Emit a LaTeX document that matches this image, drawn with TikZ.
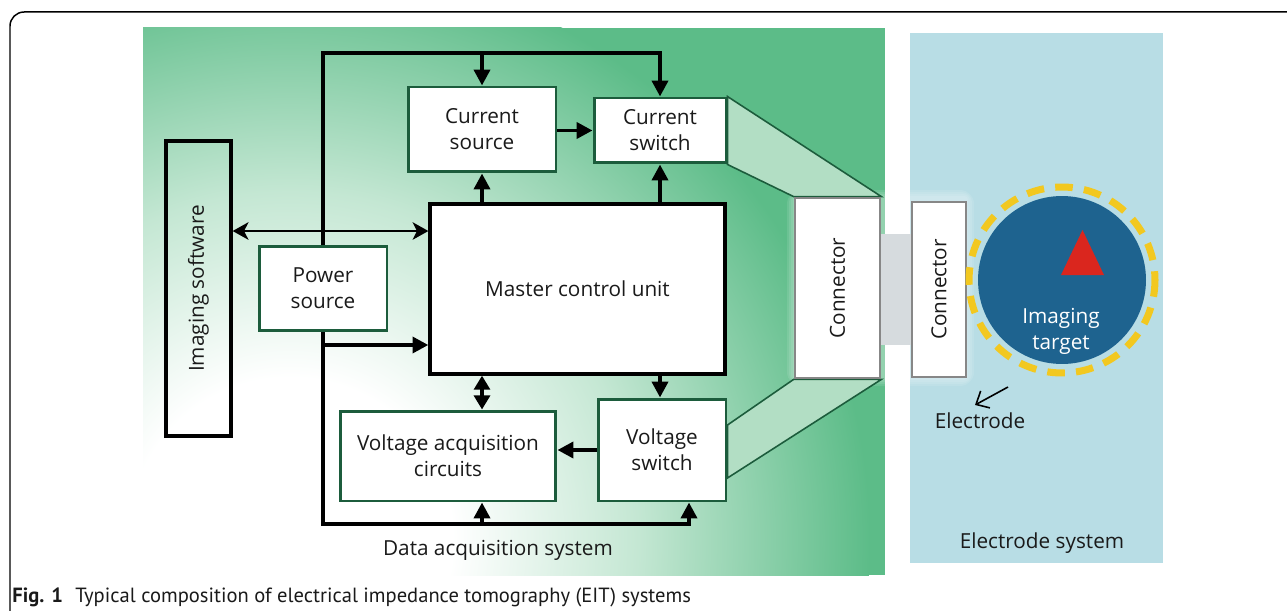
\documentclass[tikz,border=0pt]{standalone}
\usepackage{graphicx}
\usepackage{fontspec}
\setmainfont{Open Sans}
\newfontfamily\capfont{PT Sans}
\usetikzlibrary{arrows.meta}
\definecolor{panelgreen}{RGB}{92,188,136}
\definecolor{glowmid}{RGB}{196,231,211}
\definecolor{boxgreen}{RGB}{28,92,60}
\definecolor{linkgreen}{RGB}{178,222,196}
\definecolor{panelblue}{RGB}{184,221,229}
\definecolor{conngray}{RGB}{135,135,135}
\definecolor{bandgray}{RGB}{214,219,222}
\definecolor{targetblue}{RGB}{30,99,143}
\definecolor{ringyellow}{RGB}{242,200,32}
\definecolor{markred}{RGB}{218,38,30}
\definecolor{ink}{RGB}{26,26,26}
\pgfdeclareradialshading{panelglow}{\pgfpoint{0bp}{0bp}}{color(0bp)=(white); color(7bp)=(white); color(15bp)=(glowmid); color(25bp)=(panelgreen); color(50bp)=(panelgreen)}
\pgfdeclarelayer{bg}
\pgfsetlayers{bg,main}

\begin{document}
\begin{tikzpicture}[x=0.02cm,y=-0.02cm,font=\fontsize{11.8}{14.7}\selectfont,text=ink,
    gbox/.style={draw=boxgreen,line width=1.7pt,fill=white,align=center,inner sep=0pt},
    kbox/.style={draw=black,line width=1.9pt,align=center,inner sep=0pt},
    cbox/.style={draw=conngray,line width=1.6pt,fill=white,inner sep=0pt},
    arr/.style={line width=2.2pt,-{Triangle[length=9pt,width=9pt]}},
    darr/.style={line width=2.2pt,{Triangle[length=8pt,width=9pt]}-{Triangle[length=8pt,width=9pt]}},
    link/.style={draw=boxgreen,line width=0.9pt,fill=linkgreen}]
\useasboundingbox (0,0) rectangle (1287,611);
\begin{pgfonlayer}{bg}
    % panels
    \fill[panelgreen] (143,28) rectangle (885,575);
    \begin{scope}
        \clip (143,28) rectangle (885,575);
        \shade[shading=panelglow] (290,540) circle (11.6cm);
    \end{scope}
    \fill[panelblue] (910,33) rectangle (1163,563);
    \foreach \r in {1,...,4}
        \fill[white,opacity=0.1,rounded corners=2*\r pt] (795-2*\r,198-2*\r) rectangle (966+2*\r,378+2*\r);
    \fill[bandgray] (880,234) rectangle (912,345);
\end{pgfonlayer}
\draw[line width=0.85pt,rounded corners=8pt] (10,611) -- (10,12) -- (1287,12);

% boxes
\node[kbox,minimum width=1.3cm,minimum height=5.9cm] (imgsw) at (198.5,288.5) {\rotatebox{90}{Imaging software}};
\node[gbox,minimum width=2.56cm,minimum height=1.7cm] (power) at (323,288.5) {Power\\source};
\node[gbox,minimum width=2.96cm,minimum height=1.7cm] (cursrc) at (482,129.5) {Current\\source};
\node[gbox,minimum width=2.64cm,minimum height=1.3cm] (cursw) at (660,130.5) {Current\\switch};
\node[kbox,fill=white,minimum width=5.9cm,minimum height=3.4cm] (mcu) at (577.5,289) {Master control unit};
\node[gbox,minimum width=4.32cm,minimum height=1.8cm] (vac) at (448,456) {Voltage acquisition\\circuits};
\node[gbox,minimum width=2.56cm,minimum height=2.04cm] (volsw) at (662,450) {Voltage\\switch};
\node[cbox,minimum width=1.7cm,minimum height=3.6cm] (conn1) at (837.5,288) {\rotatebox{90}{Connector}};
\node[cbox,minimum width=1.08cm,minimum height=3.5cm] (conn2) at (939,289.5) {\rotatebox{90}{Connector}};

\begin{pgfonlayer}{bg}
    \filldraw[link] (cursw.north east) -- (conn1.north east) -- (conn1.north west) -- (cursw.south east) -- cycle;
    \filldraw[link] (conn1.south west) -- ([yshift=0.5cm]volsw.east) -- ([yshift=-0.56cm]volsw.east) -- (conn1.south east) -- cycle;
\end{pgfonlayer}

% bus and arrows
\coordinate (bustop) at (323,53);
\coordinate (busbot) at (323,524);
\coordinate (pw) at (323,345);
\draw[arr] (power.north) -- (power.north |- bustop) -| (cursw.north);
\draw[arr] (bustop -| cursrc.north) -- (cursrc.north);
\draw[arr] (power.south) -- (power.south |- busbot) -| ([xshift=0.54cm]volsw.south);
\draw[arr] (busbot -| cursrc) -- (vac.south -| cursrc);
\draw[arr] (pw) -- (pw -| mcu.west);
\draw[arr] (cursrc.south |- mcu.north) -- (cursrc.south);
\draw[arr] (cursw.south |- mcu.north) -- (cursw.south);
\draw[arr] (cursrc.east |- cursw) -- (cursw.west);
\draw[darr] (mcu.south -| cursrc) -- (vac.north -| cursrc);
\draw[arr] (mcu.south -| cursw) -- (volsw.north -| cursw);
\draw[arr] (volsw.west) -- (volsw.west -| vac.east);
\draw[line width=1.1pt,{Stealth[length=9pt,width=10pt,inset=2.5pt]}-{Stealth[length=9pt,width=10pt,inset=2.5pt]}] ([yshift=1.15cm]imgsw.east) -- ([yshift=1.15cm]imgsw.east -| mcu.west);

% electrode system
\node[circle,fill=targetblue,minimum size=3.36cm] (target) at (1062,280) {};
\draw[ringyellow,line width=4pt,dash pattern=on 10pt off 6.4pt,dash phase=5pt] (target.center) circle (1.86cm);
\fill[markred] (1061,275) -- (1104,275) -- (1082.5,230) -- cycle;
\node[text=white,align=center] (tlabel) at (1061,331) {Imaging\\target};
\coordinate (etail) at (1008,387);
\coordinate (etip) at (975,405);
\draw[line width=0.9pt,-{Straight Barb[length=6pt,width=11pt]}] (etail) -- (etip);
\node (elab) at (980,421) {Electrode};

% labels
\node (daqlab) at (498,550) {Data acquisition system};
\node (eslab) at (1042,543) {Electrode system};
\node[anchor=west,inner sep=0pt,font=\capfont\fontsize{11.7}{13}\selectfont] (cap) at (12,597) {\textbf{Fig. 1}\hspace{0.6em}Typical composition of electrical impedance tomography (EIT) systems};
\end{tikzpicture}
\end{document}
